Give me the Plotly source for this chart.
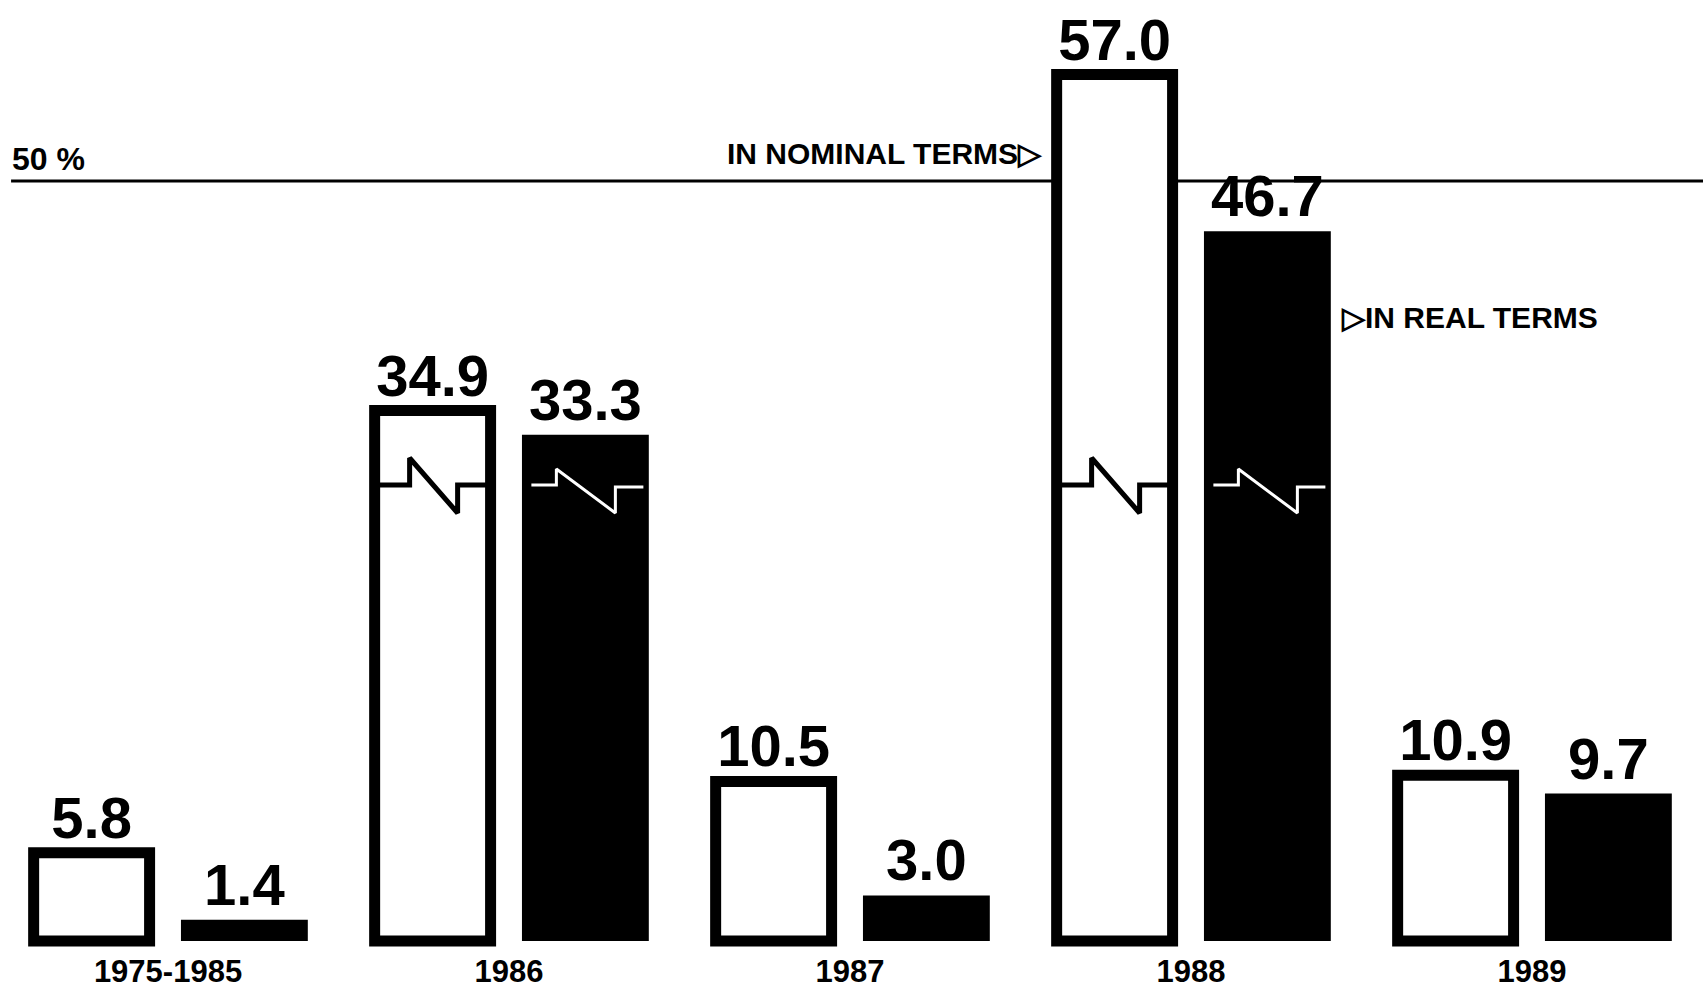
import plotly.graph_objects as go

# ---- data ----
categories = ["1975-1985", "1986", "1987", "1988", "1989"]
nominal = [5.8, 34.9, 10.5, 57.0, 10.9]
real = [1.4, 33.3, 3.0, 46.7, 9.7]
reference_level = 50
broken_categories = ["1986", "1988"]
break_level = 30

# ---- geometry (styling) ----
PX_X = 341.0      # pixels per category unit
PX_Y = 15.2       # pixels per percentage point
ZERO_PX = 941     # vertical pixel of the zero baseline
OFF = 0.224
W_NOM = 0.34
W_REAL = 0.372
BASE_FONT = "Liberation Sans, Arial, Helvetica, sans-serif"
VAL_FONT = dict(family=BASE_FONT, size=58, color="black", weight="bold")

xs = list(range(len(categories)))

fig = go.Figure()
fig.add_bar(
    x=xs, y=nominal, width=W_NOM, offset=-OFF - W_NOM / 2,
    marker=dict(color="white", line=dict(color="black", width=11)),
    text=[f"{v:.1f}" for v in nominal], textposition="outside",
    textfont=VAL_FONT, constraintext="none", cliponaxis=False,
    showlegend=False, hoverinfo="skip",
)
fig.add_bar(
    x=xs, y=real, width=W_REAL, offset=OFF - W_REAL / 2,
    marker=dict(color="black", line=dict(width=0)),
    text=[f"{v:.1f}" for v in real], textposition="outside",
    textfont=VAL_FONT, constraintext="none", cliponaxis=False,
    showlegend=False, hoverinfo="skip",
)

# break (zigzag) symbols on the tall bars
def zig(center, pts, color, width):
    zx = [center + p[0] / PX_X for p in pts]
    zy = [break_level + p[1] / PX_Y for p in pts]
    fig.add_scatter(x=zx, y=zy, mode="lines", line=dict(color=color, width=width),
                    showlegend=False, hoverinfo="skip", cliponaxis=False)

nom_pts = [(-54, 0), (-23, 0), (-23, 27), (25, -28), (25, 0), (54, 0)]
real_pts = [(-54, 0), (-29, 0), (-29, 16), (30, -28), (30, -2), (58, -2)]
for c in broken_categories:
    i = categories.index(c)
    zig(i - OFF, nom_pts, "black", 5)
    zig(i + OFF, real_pts, "white", 3)

# 50% reference line
fig.add_shape(type="line", xref="paper", yref="y", x0=0.0065, x1=1.0,
              y0=reference_level, y1=reference_level,
              line=dict(color="black", width=3), layer="below")

fig.add_annotation(xref="paper", yref="y", x=0.006, y=reference_level,
                   xanchor="left", yanchor="bottom", yshift=2, showarrow=False,
                   text="50 %", font=dict(family=BASE_FONT, size=32, color="black", weight="bold"))

i88 = categories.index("1988")
fig.add_annotation(xref="x", yref="y", x=i88 - OFF - W_NOM / 2 - 12 / PX_X, y=51.8,
                   xanchor="right", yanchor="middle", showarrow=False,
                   text="IN NOMINAL TERMS▷",
                   font=dict(family=BASE_FONT, size=30, color="black", weight="bold"))
fig.add_annotation(xref="x", yref="y", x=i88 + OFF + W_REAL / 2 + 8 / PX_X, y=41.0,
                   xanchor="left", yanchor="middle", showarrow=False,
                   text="▷IN REAL TERMS",
                   font=dict(family=BASE_FONT, size=30, color="black", weight="bold"))

fig.update_layout(
    width=1703, height=994,
    margin=dict(l=0, r=0, t=0, b=44),
    paper_bgcolor="white", plot_bgcolor="white",
    barmode="overlay",
    xaxis=dict(range=[-168 / PX_X, (1703 - 168) / PX_X], tickvals=xs, ticktext=categories,
               showgrid=False, zeroline=False, showline=False, ticks="",
               tickfont=dict(family=BASE_FONT, size=31, color="black", weight="bold")),
    yaxis=dict(range=[-(950 - ZERO_PX) / PX_Y, ZERO_PX / PX_Y], visible=False,
               showgrid=False, zeroline=False),
)

fig.write_html("out.html", config={"displayModeBar": False},
               post_script="document.body.style.margin='0';document.body.style.overflow='hidden';")
